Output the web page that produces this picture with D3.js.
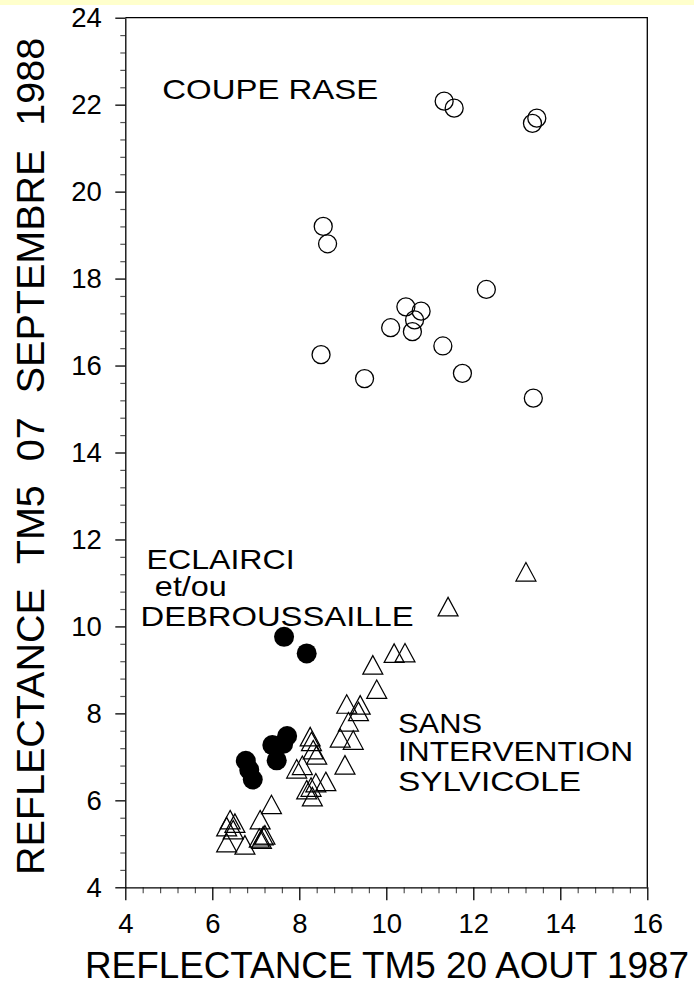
<!DOCTYPE html>
<html>
<head>
<meta charset="utf-8">
<script src="https://cdn.jsdelivr.net/npm/d3@7"></script>
<style>
  html, body { margin: 0; padding: 0; background: #fff; }
  svg { display: block; }
  text { font-family: "Liberation Sans", Arial, Helvetica, sans-serif; fill: #000; }
</style>
</head>
<body>
<svg id="chart" width="694" height="988"></svg>
<script>
// ---- data: TM5 reflectance, 20 Aug 1987 (x) vs 07 Sep 1988 (y) ----
const coupeRaseX = [11.33, 11.56, 13.46, 13.36, 8.55, 8.65, 12.3, 10.45, 10.8, 10.65, 10.6, 10.1, 8.5, 9.5, 11.3, 11.75, 13.38];
const coupeRaseY = [22.08, 21.92, 21.69, 21.57, 19.2, 18.8, 17.75, 17.35, 17.25, 17.05, 16.78, 16.87, 16.25, 15.7, 16.45, 15.82, 15.25];

const eclairciX = [6.77, 6.85, 6.93, 7.38, 7.48, 7.63, 7.72, 7.65, 8.17];
const eclairciY = [6.91, 6.7, 6.48, 7.27, 6.92, 7.3, 7.48, 9.76, 9.38];

const sansInterventionX = [6.41, 6.33, 6.52, 6.48, 6.33, 6.75, 7.1, 7.36, 7.08, 7.13, 7.17, 7.21,
  8.25, 8.28, 8.32, 8.4, 7.94, 8.07, 8.61, 8.38, 8.17, 8.27, 8.3,
  9.09, 9.36, 9.4, 9.13, 8.94, 9.24, 9.05, 9.69, 9.78, 10.18, 10.43, 11.42, 13.21];
const sansInterventionY = [5.55, 5.39, 5.47, 5.32, 5.02, 4.97, 5.55, 5.9, 5.13, 5.1, 5.18, 5.2,
  7.46, 7.35, 7.16, 7.04, 6.72, 6.8, 6.43, 6.4, 6.24, 6.3, 6.08,
  8.21, 8.04, 8.19, 7.8, 7.43, 7.38, 6.81, 9.11, 8.55, 9.38, 9.39, 10.45, 11.25];

const xTicks = [4, 6, 8, 10, 12, 14, 16];
const yTicks = [4, 6, 8, 10, 12, 14, 16, 18, 20, 22, 24];

const xTitle = "REFLECTANCE TM5 20 AOUT 1987";
const yTitleWords = ["REFLECTANCE", "TM5", "07", "SEPTEMBRE", "1988"];

// group annotations: text lines with start position in data units
const annotLines = ["COUPE RASE", "ECLAIRCI", "et/ou", "DEBROUSSAILLE", "SANS", "INTERVENTION", "SYLVICOLE"];
const annotX = [4.85, 4.49, 4.68, 4.35, 10.27, 10.27, 10.27];
const annotY = [22.12, 11.32, 10.7, 10.02, 7.56, 6.9, 6.21];
const annotLen = [216, 148, 72, 273, 84, 235, 183];

// ---- layout ----
const svg = d3.select("#chart");
const x = d3.scaleLinear().domain([4, 16]).range([125.3, 647.3]);
const y = d3.scaleLinear().domain([4, 24]).range([887.3, 17.7]);

svg.append("rect").attr("x", 0).attr("y", 0).attr("width", 694).attr("height", 5).attr("fill", "#ffffcc");

const minorSteps = (lo, hi) => d3.range(0, Math.round((hi - lo) / 0.4) + 1)
  .filter(i => i % 5 !== 0).map(i => lo + i * 0.4);

// minor ticks
const gxm = svg.append("g").attr("transform", `translate(0,${y(4)})`)
  .call(d3.axisBottom(x).tickValues(minorSteps(4, 16)).tickSize(6).tickSizeOuter(0).tickFormat(""));
gxm.select(".domain").remove();
gxm.selectAll("line").attr("stroke", "#555").attr("stroke-width", 1.2);

const gym = svg.append("g").attr("transform", `translate(${x(4)},0)`)
  .call(d3.axisLeft(y).tickValues(minorSteps(4, 24)).tickSize(5).tickSizeOuter(0).tickFormat(""));
gym.select(".domain").remove();
gym.selectAll("line").attr("stroke", "#555").attr("stroke-width", 1.2);

// major axes
const gx = svg.append("g").attr("transform", `translate(0,${y(4)})`)
  .call(d3.axisBottom(x).tickValues(xTicks).tickSize(13).tickPadding(13.5).tickSizeOuter(0).tickFormat(d3.format("d")));
const gy = svg.append("g").attr("transform", `translate(${x(4)},0)`)
  .call(d3.axisLeft(y).tickValues(yTicks).tickSize(10).tickPadding(13.5).tickSizeOuter(0).tickFormat(d3.format("d")));
[gx, gy].forEach(g => {
  g.select(".domain").attr("stroke", "#000").attr("stroke-width", 1.3);
  g.selectAll(".tick line").attr("stroke", "#000").attr("stroke-width", 1.3);
  g.selectAll(".tick text").attr("font-size", 27.5).attr("font-family", '"Liberation Sans", Arial, sans-serif').attr("fill", "#000");
});

// frame (top and right)
svg.append("path")
  .attr("d", `M${x(4)},${y(24)}H${x(16)}V${y(4)}`)
  .attr("fill", "none").attr("stroke", "#000").attr("stroke-width", 1.3);

// axis titles
svg.append("text")
  .attr("x", 85).attr("y", 978)
  .attr("font-size", 37)
  .attr("textLength", 604).attr("lengthAdjust", "spacingAndGlyphs")
  .text(xTitle);

const yt = svg.append("text")
  .attr("transform", "translate(44,875) rotate(-90)")
  .attr("font-size", 39.5);
yt.selectAll("tspan").data(yTitleWords).join("tspan")
  .attr("dx", (d, i) => i === 0 ? 0 : 24)
  .text(d => d);

// annotations
svg.append("g").selectAll("text").data(annotLines).join("text")
  .attr("x", (d, i) => x(annotX[i]))
  .attr("y", (d, i) => y(annotY[i]))
  .attr("font-size", 28.5)
  .attr("textLength", (d, i) => annotLen[i]).attr("lengthAdjust", "spacingAndGlyphs")
  .text(d => d);

// series
const tri = (cx, cy) => `M${cx},${cy - 9.5}L${cx + 10},${cy + 9}L${cx - 10},${cy + 9}Z`;

svg.append("g").selectAll("path").data(d3.range(sansInterventionX.length)).join("path")
  .attr("d", i => tri(x(sansInterventionX[i]), y(sansInterventionY[i])))
  .attr("fill", "none").attr("stroke", "#000").attr("stroke-width", 1.2)
  .attr("stroke-linejoin", "miter");

svg.append("g").selectAll("circle").data(d3.range(coupeRaseX.length)).join("circle")
  .attr("cx", i => x(coupeRaseX[i])).attr("cy", i => y(coupeRaseY[i]))
  .attr("r", 9).attr("fill", "none").attr("stroke", "#000").attr("stroke-width", 1.3);

svg.append("g").selectAll("circle").data(d3.range(eclairciX.length)).join("circle")
  .attr("cx", i => x(eclairciX[i])).attr("cy", i => y(eclairciY[i]))
  .attr("r", 10).attr("fill", "#000");
</script>
</body>
</html>
